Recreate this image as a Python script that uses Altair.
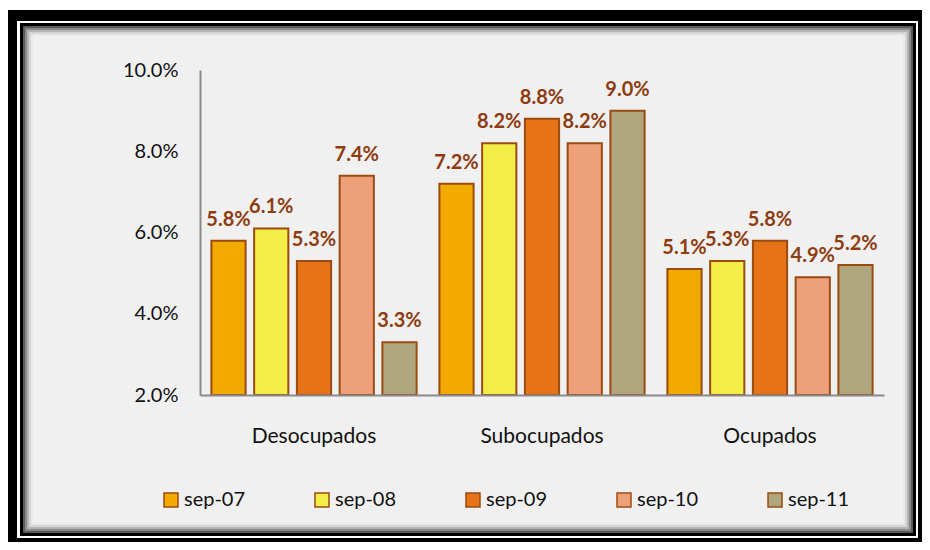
import altair as alt
import pandas as pd

categories = ["Desocupados", "Subocupados", "Ocupados"]
periods = ["sep-07", "sep-08", "sep-09", "sep-10", "sep-11"]
sep_07 = [5.8, 7.2, 5.1]
sep_08 = [6.1, 8.2, 5.3]
sep_09 = [5.3, 8.8, 5.8]
sep_10 = [7.4, 8.2, 4.9]
sep_11 = [3.3, 9.0, 5.2]
series = [sep_07, sep_08, sep_09, sep_10, sep_11]
y_ticks = [2, 4, 6, 8, 10]

colors = ["#F2A900", "#F3EE47", "#E77318", "#EEA07A", "#B0A67E"]
edge = "#9C4A10"
label_color = "#8E3B10"
FONT = "Lato"

rows = []
for p, vals in zip(periods, series):
    for c, v in zip(categories, vals):
        rows.append({"categoria": c, "periodo": p, "valor": v})
df = pd.DataFrame(rows)

W, H = 684, 325
PL, PT = 192, 62
TOTAL_W, TOTAL_H = 914, 534

# decorative frame (chart-space pixel boxes)
frame = [
    (0, 2, 914, 534, "#000000"),
    (9, 13, 910, 530, "#ffffff"),
    (12, 15, 908, 528, "#000000"),
    (15, 18, 905, 525, "#5a5a5a"),
    (17, 20, 903, 523, "#8a8a8a"),
    (19, 22, 901, 521, "#b5b5b5"),
    (21, 24, 899, 519, "#d6d6d6"),
    (23, 26, 897, 517, "#e8e8e8"),
    (25, 28, 895, 515, "#f0f0f0"),
]

one = pd.DataFrame({"k": [0]})
layers = []
for x0, y0, x1, y1, col in frame:
    layers.append(
        alt.Chart(one).mark_rect(color=col).encode(
            x=alt.value(x0 - PL), x2=alt.value(x1 - PL),
            y=alt.value(y0 - PT), y2=alt.value(y1 - PT),
        )
    )

x_enc = alt.X(
    "categoria:N", sort=categories,
    scale=alt.Scale(paddingInner=0.1, paddingOuter=0.05),
    axis=alt.Axis(title=None, labelAngle=0, ticks=False, grid=False,
                  domainColor="#8a8a8a", domainWidth=2, labelFont=FONT,
                  labelFontSize=21, labelColor="#111111", labelPadding=30,
                  zindex=1),
)
xo_enc = alt.XOffset("periodo:N", sort=periods,
                     scale=alt.Scale(paddingInner=0.2, paddingOuter=0))
y_enc = alt.Y(
    "valor:Q",
    scale=alt.Scale(domain=[2, 10], nice=False, zero=False),
    axis=alt.Axis(title=None, values=y_ticks,
                  labelExpr="format(datum.value, '.1f') + '%'",
                  ticks=False, grid=False, domainColor="#8a8a8a",
                  domainWidth=2, labelFont=FONT, labelFontSize=20,
                  labelColor="#111111", labelPadding=22, zindex=1),
)

bars = alt.Chart(df).mark_bar(stroke=edge, strokeWidth=2).encode(
    x=x_enc,
    xOffset=xo_enc,
    y=y_enc,
    y2=alt.datum(2),
    color=alt.Color(
        "periodo:N", sort=periods,
        scale=alt.Scale(domain=periods, range=colors),
        legend=alt.Legend(
            orient="none", legendX=-39, legendY=420, direction="horizontal",
            columns=5, title=None, symbolType="square", symbolSize=196,
            symbolStrokeColor=edge, symbolStrokeWidth=1.5,
            labelFont=FONT, labelFontSize=20, labelColor="#111111",
            columnPadding=66, gridAlign="all", padding=0, labelOffset=3,
        ),
    ),
)

texts = alt.Chart(df).mark_text(
    font=FONT, fontSize=20, fontWeight="bold", color=label_color,
    baseline="alphabetic", dy=-15,
).transform_calculate(
    label="format(datum.valor, '.1f') + '%'"
).encode(
    x=alt.X("categoria:N", sort=categories),
    xOffset=alt.XOffset("periodo:N", sort=periods),
    y=alt.Y("valor:Q"),
    text="label:N",
)

chart = alt.layer(*layers, bars, texts).properties(
    width=W, height=H,
    autosize=alt.AutoSizeParams(type="none"),
    padding={"left": PL, "top": PT, "right": TOTAL_W - PL - W,
             "bottom": TOTAL_H - PT - H},
    background="white",
).configure_view(stroke=None)

chart.save("out.html", embed_options={"renderer": "svg", "actions": False})
